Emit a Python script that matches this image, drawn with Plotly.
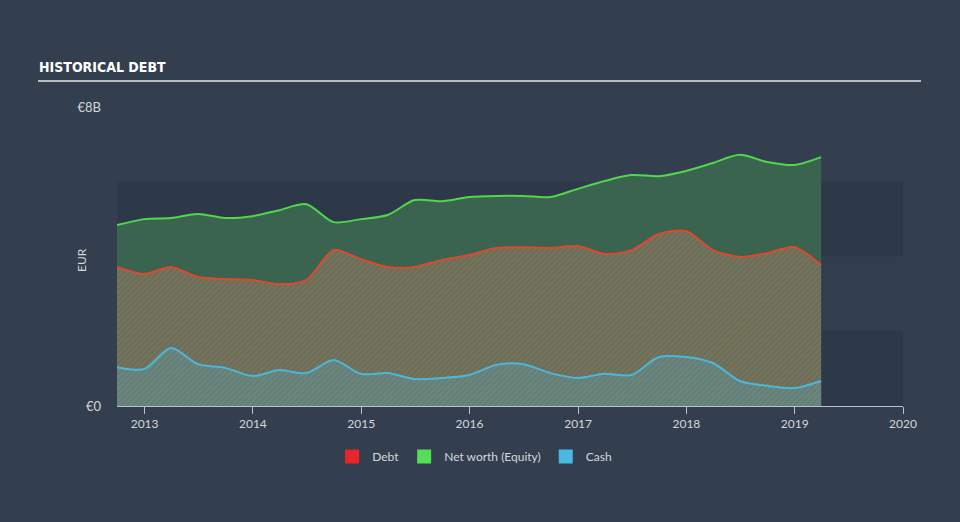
import plotly.graph_objects as go
import pandas as pd

dates = pd.date_range("2012-09-30", periods=27, freq="QE").strftime("%Y-%m-%d").tolist()

equity = [4.84, 5.00, 5.03, 5.14, 5.03, 5.08, 5.24, 5.40, 4.92, 5.00, 5.11, 5.51, 5.48, 5.59,
          5.62, 5.62, 5.59, 5.81, 6.02, 6.18, 6.15, 6.29, 6.50, 6.72, 6.53, 6.45, 6.66]
debt = [3.72, 3.53, 3.72, 3.45, 3.40, 3.37, 3.26, 3.37, 4.17, 3.93, 3.72, 3.72, 3.91, 4.04,
        4.23, 4.25, 4.23, 4.28, 4.07, 4.17, 4.60, 4.68, 4.17, 3.99, 4.09, 4.25, 3.77]
cash = [1.04, 0.99, 1.55, 1.12, 1.02, 0.80, 0.96, 0.88, 1.23, 0.86, 0.88, 0.72, 0.75, 0.83,
        1.10, 1.12, 0.88, 0.75, 0.86, 0.83, 1.31, 1.31, 1.15, 0.67, 0.54, 0.48, 0.67]

equity = [v * 1e9 for v in equity]
debt = [v * 1e9 for v in debt]
cash = [v * 1e9 for v in cash]

year_ticks = [f"{y}-01-01" for y in range(2013, 2021)]
year_text = [str(y) for y in range(2013, 2021)]

BG = "#333f4f"
TXT = "#d3d7dc"
FONT = "Lato"

fig = go.Figure()

fig.add_trace(go.Scatter(
    x=dates, y=equity, mode="lines", line=dict(color="#4fd84a", width=2, shape="spline", smoothing=0.8),
    fill="tozeroy", fillcolor="#3a6350", showlegend=False, hoverinfo="skip"))
fig.add_trace(go.Scatter(
    x=dates, y=debt, mode="lines", line=dict(color="#e0482c", width=2, shape="spline", smoothing=0.8),
    fill="tozeroy", fillcolor="#587462",
    fillpattern=dict(shape="/", fgcolor="#c8643e", bgcolor="#587462", size=4, solidity=0.45),
    showlegend=False, hoverinfo="skip"))
fig.add_trace(go.Scatter(
    x=dates, y=cash, mode="lines", line=dict(color="#4ab8dc", width=2, shape="spline", smoothing=0.8),
    fill="tozeroy", fillcolor="#6e7a6c",
    fillpattern=dict(shape="/", fgcolor="#4f9fae", bgcolor="#6e7a6c", size=4, solidity=0.45),
    showlegend=False, hoverinfo="skip"))

for name, col in [("Debt", "#e8262a"), ("Net worth (Equity)", "#55dd55"), ("Cash", "#4ab9df")]:
    fig.add_trace(go.Scatter(x=[None], y=[None], mode="markers", name=name,
                             marker=dict(symbol="square", size=14, color=col)))

# background bands
for y0, y1 in [(0, 2e9), (4e9, 6e9)]:
    fig.add_shape(type="rect", xref="paper", yref="y", x0=0, x1=1, y0=y0, y1=y1,
                  fillcolor="#2d3949", line_width=0, layer="below")
fig.add_shape(type="rect", xref="paper", yref="y", x0=0, x1=1, y0=2e9, y1=4e9,
              fillcolor="#323e4e", line_width=0, layer="below")

PH = 299.0
PW = 786.0

# title and rule
fig.add_annotation(text="<b>HISTORICAL DEBT</b>", xref="paper", yref="paper",
                   x=(37 - 117) / PW, y=(406 - 67) / PH,
                   xanchor="left", yanchor="middle", showarrow=False,
                   font=dict(family="DejaVu Sans Condensed, Roboto Condensed, Roboto", size=14,
                             color="#ffffff"))
fig.add_shape(type="line", xref="paper", yref="paper",
              x0=(38 - 117) / PW, x1=(921 - 117) / PW,
              y0=(406 - 81) / PH, y1=(406 - 81) / PH,
              line=dict(color="#b9bdc2", width=2))
fig.add_annotation(text="EUR", xref="paper", yref="paper", x=(81 - 117) / PW, y=(406 - 260) / PH,
                   textangle=-90, showarrow=False, xanchor="center", yanchor="middle",
                   font=dict(family=FONT, size=12, color=TXT))

fig.update_layout(
    width=960, height=522,
    margin=dict(l=117, r=57, t=107, b=116),
    paper_bgcolor=BG, plot_bgcolor=BG,
    font=dict(family=FONT, size=12, color=TXT),
    xaxis=dict(type="date", range=["2012-09-30", "2020-01-01"], tickvals=year_ticks, ticktext=year_text,
               showgrid=False, zeroline=False, showline=True, linecolor="#b9c3cf", linewidth=1,
               ticks="outside", ticklen=7, tickcolor="#b9c3cf", tickfont=dict(size=12, color=TXT)),
    yaxis=dict(range=[0, 8e9], tickvals=[0, 8e9], ticktext=["€0", "€8B"], showgrid=False,
               zeroline=False, showline=False, ticks="", ticklabelstandoff=15,
               tickfont=dict(size=13, color=TXT)),
    legend=dict(orientation="h", x=0.455, xanchor="center", y=-0.12, yanchor="top",
                font=dict(size=12, color=TXT), bgcolor="rgba(0,0,0,0)", itemwidth=30),
    showlegend=True,
)

fig.write_html("out.html")
